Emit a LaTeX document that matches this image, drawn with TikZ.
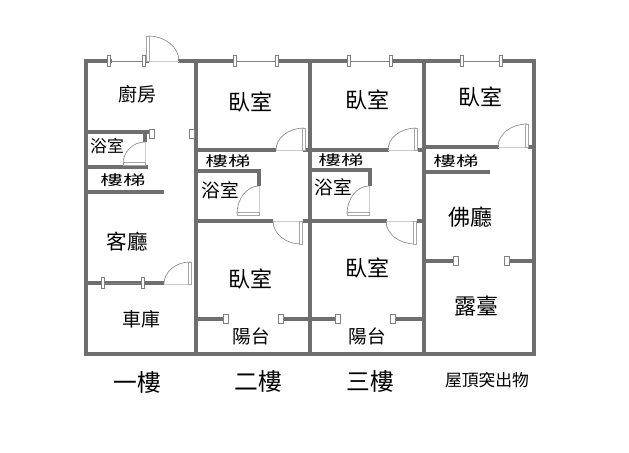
\documentclass[tikz,border=0pt]{standalone}
\usepackage{fontspec}
\setmainfont{Noto Sans CJK TC}
\definecolor{wallgray}{HTML}{6E6E6E}
\newcommand{\swingdoor}[6]{%
 \begin{scope}[shift={(#1,#2)}]
  \draw[sill] (0,0) -- (#5,#6);
  \draw[swing] (#3,#4) .. controls +(0.55*#5,0.55*#6) and +(0.55*#3,0.55*#4) .. (#5,#6);
  \draw[doorleaf] ({-1.2*(#3==0)},{-1.2*(#4==0)}) rectangle ({#3+1.2*(#3==0)},{#4+1.2*(#4==0)});
 \end{scope}}
\begin{document}
\begin{tikzpicture}
 [
 x=0.75pt, y=-0.75pt,
 wall/.style={draw=wallgray, line width=3pt, line cap=rect},
 sill/.style={draw=gray!40, line width=0.5pt},
 swing/.style={draw=gray!90, line width=0.5pt},
 doorleaf/.style={draw=gray!70, fill=white, line width=0.5pt},
 pane/.style={draw=gray, line width=0.5pt},
 jamb/.style={rectangle, draw=gray, fill=white, line width=0.5pt, inner sep=0pt, minimum width=2.5pt, minimum height=8pt},
 jambwide/.style={jamb, minimum width=3.5pt, minimum height=6.5pt},
 bigroom/.style={font=\fontsize{16.5}{18}\selectfont, inner sep=0pt},
 room/.style={font=\fontsize{14.2}{16}\selectfont, inner sep=0pt},
 smallroom/.style={font=\fontsize{14}{16}\selectfont, inner sep=0pt},
 stairs/.style={font=\fontsize{10.5}{12}\selectfont, xscale=1.6, inner sep=0pt},
 floorname/.style={font=\fontsize{17.8}{20}\selectfont, inner sep=0pt}
 ]
 \useasboundingbox (0,0) rectangle (629,453);
 % outer walls and floor dividers
 \draw[wall] (110,61) -- (86,61) -- (86,354) -- (534,354) -- (534,61) -- (501,61);
 \draw[wall] (180,61) -- (235,61);
 \draw[wall] (277,61) -- (349,61);
 \draw[wall] (391,61) -- (462,61);
 \draw[wall] (144,61) -- (147,61);
 \draw[wall] (196,61) -- (196,354);
 \draw[wall] (310,61) -- (310,354);
 \draw[wall] (424,61) -- (424,354);
 % first floor
 \draw[wall] (86,132) -- (150,132);
 \draw[wall] (145,132) -- (145,140);
 \draw[wall] (86,167) -- (146,167);
 \draw[wall] (86,192) -- (162,192);
 \draw[wall] (86,283) -- (162,283);
 % second floor
 \draw[wall] (196,150) -- (274,150);
 \draw[wall] (196,171) -- (259,171) -- (259,184);
 \draw[wall] (196,221) -- (271,221);
 \draw[wall] (305,150) -- (310,150);
 \draw[wall] (305,221) -- (310,221);
 \draw[wall] (196,319) -- (225,319);
 \draw[wall] (284,319) -- (310,319);
 % third floor
 \draw[wall] (310,150) -- (387,150);
 \draw[wall] (310,170) -- (370,170) -- (370,184);
 \draw[wall] (310,221) -- (385,221);
 \draw[wall] (420,150) -- (424,150);
 \draw[wall] (419,221) -- (424,221);
 \draw[wall] (310,319) -- (336,319);
 \draw[wall] (396,319) -- (424,319);
 % roof
 \draw[wall] (424,147) -- (497,147);
 \draw[wall] (530,147) -- (534,147);
 \draw[wall] (426,172) -- (488,172);
 \draw[wall] (424,261) -- (454,261);
 \draw[wall] (510,261) -- (534,261);
 % windows
 \foreach \wy/\wa/\wb in {61/109/144, 283/103/143, 61/235/277, 61/349/391, 61/462/501}{
  \node at (\wa,\wy) [jamb] (win\wa) {};
  \node at (\wb,\wy) [jamb] (win\wb) {};
  \draw[pane] (win\wa) -- (win\wb);
 }
 % openings
 \node at (152,134) [jambwide] (jk1) {};
 \node at (192,134) [jambwide] (jk2) {};
 \node at (226,319) [jambwide] (jb1) {};
 \node at (281,319) [jambwide] (jb2) {};
 \node at (338,319) [jambwide] (jb3) {};
 \node at (393,319) [jambwide] (jb4) {};
 \node at (456,261) [jambwide] (jh1) {};
 \node at (507,261) [jambwide] (jh2) {};
 % doors
 \swingdoor{148}{61}{0}{-25}{31}{0}
 \swingdoor{145}{164}{-22}{0}{0}{-22}
 \swingdoor{190}{284}{0}{-22}{-26}{0}
 \swingdoor{304}{150}{0}{-22}{-28}{0}
 \swingdoor{259}{214}{-22}{0}{0}{-28}
 \swingdoor{301}{221}{0}{23}{-28}{0}
 \swingdoor{416}{150}{0}{-22}{-28}{0}
 \swingdoor{369}{214}{-22}{0}{0}{-28}
 \swingdoor{415}{221}{0}{23}{-29}{0}
 \swingdoor{527}{147}{0}{-23}{-29}{0}
 % rooms
 \node at (137,94) [room] (kitchen) {廚房};
 \node at (107,146) [smallroom, font=\fontsize{12.6}{14}\selectfont] (bath1) {浴室};
 \node at (123,180) [stairs] (stair1) {樓梯};
 \node at (127,242) [room, font=\fontsize{15.4}{17}\selectfont] (living) {客廳};
 \node at (141,319) [room] (garage) {車庫};
 \node at (250,102) [bigroom] (bed2a) {臥室};
 \node at (228,161) [stairs] (stair2) {樓梯};
 \node at (220,190) [smallroom] (bath2) {浴室};
 \node at (250,279) [bigroom] (bed2b) {臥室};
 \node at (251,336) [smallroom] (balc2) {陽台};
 \node at (367,100) [bigroom] (bed3a) {臥室};
 \node at (341,160) [stairs] (stair3) {樓梯};
 \node at (333,187) [smallroom] (bath3) {浴室};
 \node at (367,268) [bigroom] (bed3b) {臥室};
 \node at (367,336) [smallroom] (balc3) {陽台};
 \node at (480,97) [bigroom] (bed4) {臥室};
 \node at (456,161) [stairs] (stair4) {樓梯};
 \node at (470,217) [bigroom] (hall) {佛廳};
 \node at (476,306) [bigroom] (terrace) {露臺};
 % floor names
 \node at (137,382) [floorname] (floor1) {一樓};
 \node at (258,381) [floorname] (floor2) {二樓};
 \node at (370,381) [floorname] (floor3) {三樓};
 \node at (487,380) [smallroom, font=\fontsize{12.6}{14}\selectfont] (floor4) {屋頂突出物};
\end{tikzpicture}
\end{document}
